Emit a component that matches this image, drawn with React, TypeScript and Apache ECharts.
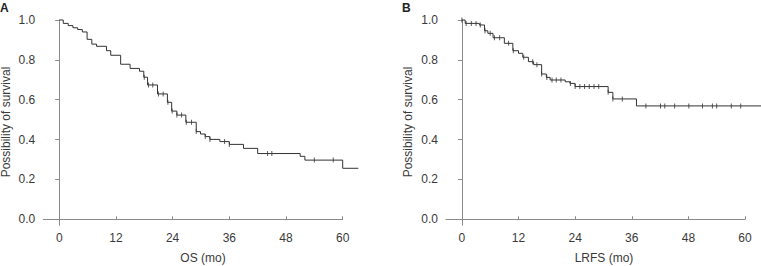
import React, { useEffect, useRef } from "react";
import * as echarts from "echarts";

// Panel A: overall survival (OS)
const osTimes = [0, 0.85, 1.9, 2.9, 3.9, 4.9, 5.9, 6.9, 7.9, 10.0, 10.9, 13.0, 15.0, 17.0, 17.9, 18.7, 20.8, 22.9, 23.8, 24.9, 26.8, 29.0, 29.9, 30.9, 31.9, 34.0, 36.0, 39.0, 42.0, 51.0, 52.0, 60.0, 63.3];
const osSurv = [1.0, 0.983, 0.972, 0.961, 0.952, 0.940, 0.903, 0.879, 0.868, 0.846, 0.823, 0.778, 0.757, 0.743, 0.713, 0.674, 0.629, 0.587, 0.543, 0.523, 0.487, 0.440, 0.428, 0.415, 0.401, 0.390, 0.376, 0.356, 0.330, 0.316, 0.297, 0.256, 0.256];
const osCensor = [18.0, 18.9, 19.8, 21.0, 22.0, 23.0, 23.9, 24.9, 25.9, 26.9, 28.0, 29.0, 30.9, 31.9, 35.0, 36.0, 44.1, 45.0, 54.0, 58.0];

// Panel B: local recurrence-free survival (LRFS)
const lrfsTimes = [0, 0.7, 3.7, 4.8, 5.5, 6.6, 9.0, 10.8, 12.0, 12.9, 14.1, 15.2, 16.9, 17.9, 18.7, 21.9, 22.9, 24.0, 31.0, 32.0, 37.0, 63.4];
const lrfsSurv = [1.0, 0.983, 0.975, 0.946, 0.933, 0.911, 0.883, 0.846, 0.833, 0.813, 0.791, 0.776, 0.729, 0.712, 0.699, 0.690, 0.682, 0.666, 0.637, 0.604, 0.569, 0.569];
const lrfsCensor = [0, 0.9, 2.0, 3.0, 3.9, 4.9, 6.0, 6.9, 8.0, 9.9, 10.9, 13.1, 15.0, 15.9, 16.9, 18.0, 19.1, 20.0, 21.0, 23.0, 24.0, 25.0, 26.0, 27.0, 28.0, 29.0, 31.0, 32.0, 34.0, 39.0, 42.1, 43.0, 45.1, 48.1, 51.0, 53.1, 54.0, 57.1, 59.1];

const xTicks = [0, 12, 24, 36, 48, 60];
const yTicks = [0, 0.2, 0.4, 0.6, 0.8, 1.0];
const panelLetters = ["A", "B"];
const xTitles = ["OS (mo)", "LRFS (mo)"];
const yTitle = "Possibility of survival";

const FONT = "'Liberation Sans', Arial, Helvetica, sans-serif";
const AXIS_COLOR = "#8a8a8a";
const LINE_COLOR = "#333333";
const TEXT_COLOR = "#3a3a3a";

const X_MIN = -3.37;
const X_AXIS_MAX = 60;
const X_DATA_MAX = 63.4;
const Y_MIN = -0.03;
const Y_MAX = 1.0;

function survAt(times: number[], surv: number[], t: number): number {
  let v = surv[0];
  for (let i = 0; i < times.length; i++) {
    if (times[i] <= t + 1e-9) v = surv[i];
  }
  return v;
}

export default function App() {
  const ref = useRef<HTMLDivElement>(null);
  useEffect(() => {
    document.body.style.margin = "0";
    if (!ref.current) return;
    const chart = echarts.init(ref.current, null, { renderer: "svg" });

    const axisGrids = [
      { left: 43.3, top: 20, width: 299.4, height: 205.3 },
      { left: 446, top: 20, width: 299, height: 205.3 },
    ];
    const stretch = (X_DATA_MAX - X_MIN) / (X_AXIS_MAX - X_MIN);
    const dataGrids = axisGrids.map((g) => ({ ...g, width: g.width * stretch }));

    const mkX = (i: number) => ({
      type: "value",
      gridIndex: i,
      min: X_MIN,
      max: X_AXIS_MAX,
      axisLine: { show: true, lineStyle: { color: AXIS_COLOR, width: 1 } },
      axisTick: { show: true, inside: true, length: 3, customValues: xTicks, lineStyle: { color: AXIS_COLOR } },
      axisLabel: { show: true, customValues: xTicks, margin: 7, color: TEXT_COLOR, fontSize: 12, fontFamily: FONT, formatter: (v: number) => String(v) },
      splitLine: { show: false },
    });
    const mkY = (i: number) => ({
      type: "value",
      gridIndex: i,
      min: Y_MIN,
      max: Y_MAX,
      axisLine: { show: true, lineStyle: { color: AXIS_COLOR, width: 1 } },
      axisTick: { show: true, inside: false, length: 4, customValues: yTicks, lineStyle: { color: AXIS_COLOR } },
      axisLabel: { show: true, customValues: yTicks, margin: 8, color: TEXT_COLOR, fontSize: 12, fontFamily: FONT, formatter: (v: number) => v.toFixed(1) },
      splitLine: { show: false },
    });
    const mkHiddenX = (i: number) => ({ type: "value", gridIndex: i, min: X_MIN, max: X_DATA_MAX, show: false, splitLine: { show: false } });
    const mkHiddenY = (i: number) => ({ type: "value", gridIndex: i, min: Y_MIN, max: Y_MAX, show: false, splitLine: { show: false } });

    const curve = (i: number, times: number[], surv: number[]) => ({
      type: "line",
      xAxisIndex: i,
      yAxisIndex: i,
      step: "end",
      showSymbol: false,
      clip: false,
      data: times.map((t, k) => [t, surv[k]]),
      lineStyle: { color: LINE_COLOR, width: 1 },
      itemStyle: { color: LINE_COLOR },
      silent: true,
    });
    const censor = (i: number, times: number[], surv: number[], cens: number[]) => ({
      type: "scatter",
      xAxisIndex: i,
      yAxisIndex: i,
      symbol: "rect",
      symbolSize: [1, 5],
      clip: false,
      data: cens.map((t) => [t, survAt(times, surv, t)]),
      itemStyle: { color: LINE_COLOR },
      silent: true,
    });

    const option = {
      animation: false,
      grid: [...axisGrids, ...dataGrids],
      xAxis: [mkX(0), mkX(1), mkHiddenX(2), mkHiddenX(3)],
      yAxis: [mkY(0), mkY(1), mkHiddenY(2), mkHiddenY(3)],
      series: [
        curve(2, osTimes, osSurv),
        censor(2, osTimes, osSurv, osCensor),
        curve(3, lrfsTimes, lrfsSurv),
        censor(3, lrfsTimes, lrfsSurv, lrfsCensor),
      ],
      graphic: [
        { type: "text", left: 0, top: 2, style: { text: panelLetters[0], fontSize: 12, fontWeight: "bold", fontFamily: FONT, fill: "#222" } },
        { type: "text", left: 402, top: 2, style: { text: panelLetters[1], fontSize: 12, fontWeight: "bold", fontFamily: FONT, fill: "#222" } },
        { type: "text", x: 203, y: 258, style: { text: xTitles[0], fontSize: 12, fontFamily: FONT, fill: TEXT_COLOR, align: "center", verticalAlign: "middle" } },
        { type: "text", x: 604, y: 258, style: { text: xTitles[1], fontSize: 12, fontFamily: FONT, fill: TEXT_COLOR, align: "center", verticalAlign: "middle" } },
        { type: "text", x: 6, y: 122, rotation: Math.PI / 2, style: { text: yTitle, fontSize: 12, fontFamily: FONT, fill: TEXT_COLOR, align: "center", verticalAlign: "middle" } },
        { type: "text", x: 407.5, y: 122, rotation: Math.PI / 2, style: { text: yTitle, fontSize: 12, fontFamily: FONT, fill: TEXT_COLOR, align: "center", verticalAlign: "middle" } },
      ],
    };
    chart.setOption(option as any);
    return () => chart.dispose();
  }, []);
  return <div ref={ref} style={{ width: 761, height: 266 }} />;
}
